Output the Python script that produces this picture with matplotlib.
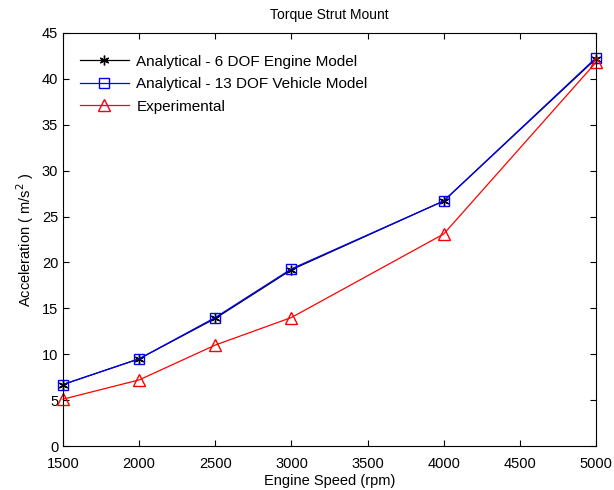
import matplotlib.pyplot as plt

rpm = [1500, 2000, 2500, 3000, 4000, 5000]
engine_6dof = [6.7, 9.5, 13.9, 19.2, 26.7, 42.2]
vehicle_13dof = [6.7, 9.5, 14.0, 19.3, 26.7, 42.3]
experimental = [5.1, 7.2, 11.0, 14.0, 23.1, 41.8]

plt.rcParams['font.family'] = ['Liberation Sans', 'DejaVu Sans']
plt.rcParams['font.size'] = 10

fig = plt.figure(figsize=(6.14, 4.9), dpi=100)
ax = fig.add_axes([63 / 614, 1 - 446 / 490, 533 / 614, 413 / 490])

ax.plot(rpm, engine_6dof, color='k', marker=(6, 2, 0), markersize=7, lw=0.9,
        clip_on=False, label='Analytical - 6 DOF Engine Model')
ax.plot(rpm, vehicle_13dof, color='b', marker='s', markersize=7, mfc='none', lw=0.9,
        clip_on=False, label='Analytical - 13 DOF Vehicle Model')
ax.plot(rpm, experimental, color='r', marker='^', markersize=9, mfc='none', lw=0.9,
        clip_on=False, label='Experimental')

ax.set_xlim(1500, 5000)
ax.set_ylim(0, 45)
ax.set_xticks(range(1500, 5001, 500))
ax.set_yticks(range(0, 46, 5))
ax.tick_params(direction='in', top=True, right=True, length=4, labelsize=10.5)
ax.tick_params(axis='x', pad=8)
ax.set_title('Torque Strut Mount', fontsize=10, pad=10)
ax.set_xlabel('Engine Speed (rpm)', fontsize=10.5, labelpad=2)
ax.set_ylabel('Acceleration ( m/s$^2$ )', fontsize=10.5)
ax.legend(loc='upper left', frameon=False, fontsize=11, handlelength=3.2,
          bbox_to_anchor=(0.02, 0.962), borderaxespad=0.0, labelspacing=0.55,
          handletextpad=0.5)

fig.savefig('out.png', dpi=100)
